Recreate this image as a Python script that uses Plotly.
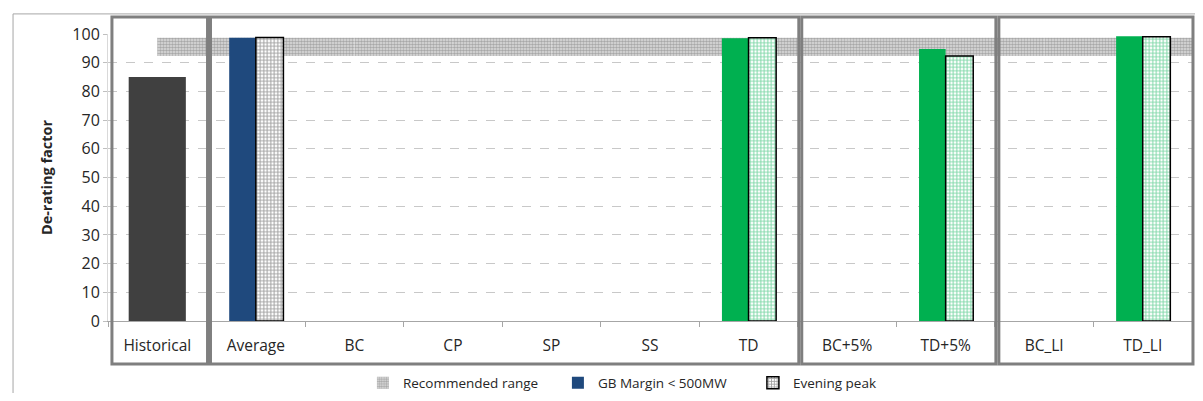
import plotly.graph_objects as go

categories = ["Historical", "Average", "BC", "CP", "SP", "SS", "TD",
              "BC+5%", "TD+5%", "BC_LI", "TD_LI"]
historical = [85, None, None, None, None, None, None, None, None, None, None]
gb_margin = [None, 98.7, None, None, None, None, 98.5, None, 94.8, None, 99.2]
evening_peak = [None, 98.8, None, None, None, None, 98.7, None, 92.3, None, 99.0]
band_low = [92.3] * len(categories)
band_high = [98.7] * len(categories)
# index ranges of the boxed groups
groups = [(0, 0), (1, 6), (7, 8), (9, 10)]

BLUE = "#1F497D"
GREEN = "#00B050"
positions = list(range(len(categories)))
n = len(categories)

# scenario (TD*) bars are green, the rest keep the series colour
gb_colors = [GREEN if c.startswith("TD") else BLUE for c in categories]
peak_fg = [GREEN if c.startswith("TD") else "#404040" for c in categories]

fig = go.Figure()

# recommended range band (bars of width 1 so it runs to the right edge)
fig.add_trace(go.Bar(
    x=positions,
    y=[h - l for h, l in zip(band_high, band_low)],
    base=band_low,
    offset=0, width=1,
    name="Recommended range",
    marker=dict(color="white", line=dict(width=0),
                pattern=dict(shape=".", fgcolor="#707070", bgcolor="#E0E0E0",
                             size=3, solidity=0.6)),
))

fig.add_trace(go.Bar(
    x=positions, y=historical, offset=-0.29, width=0.58,
    marker=dict(color="#404040", line=dict(width=0)),
    showlegend=False, name="Historical",
))

fig.add_trace(go.Bar(
    x=positions, y=gb_margin, offset=-0.27, width=0.27,
    name="GB Margin < 500MW",
    marker=dict(color=gb_colors, line=dict(width=0)),
))

fig.add_trace(go.Bar(
    x=positions, y=evening_peak, offset=0, width=0.28,
    name="Evening peak",
    marker=dict(color="white", line=dict(color="black", width=1.5),
                pattern=dict(shape="+", fgcolor=peak_fg, bgcolor="white",
                             size=3.5, solidity=0.5)),
))

# grey boxes around the groups
shapes = []
for start, end in groups:
    shapes.append(dict(
        type="rect", xref="paper", yref="paper",
        x0=(start - 0.46 + 0.5) / n, x1=(end + 0.51 + 0.5) / n,
        y0=-0.15, y1=1.059,
        line=dict(color="#7F7F7F", width=3),
    ))
# outer chart border
shapes.append(dict(type="rect", xref="paper", yref="paper",
                   x0=-0.0876, x1=1.05, y0=-0.5, y1=1.07,
                   line=dict(color="#A6A6A6", width=1)))

# the page body adds an 8px margin, so the figure is sized to fit inside it
fig.update_layout(
    barmode="overlay",
    width=1187, height=385,
    margin=dict(l=100, r=3, t=26, b=72),
    paper_bgcolor="white", plot_bgcolor="white",
    font=dict(family="Open Sans", size=13, color="#262626"),
    shapes=shapes,
    # legend placed in container coords so it does not push the margins
    legend=dict(orientation="h", xref="container", yref="container",
                x=0.299, xanchor="left", y=0.026, yanchor="middle",
                font=dict(size=13.5), entrywidth=150, traceorder="normal"),
    xaxis=dict(
        range=[-0.5, 10.5], automargin=False,
        tickmode="array", tickvals=positions, ticktext=categories,
        showgrid=False, showline=True, linecolor="#A6A6A6", linewidth=1,
        ticks="", ticklabelstandoff=10,
        minor=dict(tick0=0.5, dtick=1, ticks="outside", ticklen=5,
                   tickcolor="#A6A6A6"),
        tickfont=dict(size=15.5),
    ),
    yaxis=dict(
        range=[0, 100], dtick=10, automargin=False,
        gridcolor="#C8C8C8", griddash="dash", zeroline=False,
        showline=True, linecolor="#D9D9D9",
        ticks="outside", ticklen=4, tickcolor="#BFBFBF",
        tickfont=dict(size=16),
        title=dict(text="<b>De-rating factor</b>", standoff=16,
                   font=dict(size=14.5)),
    ),
)

fig.write_html("out.html")
